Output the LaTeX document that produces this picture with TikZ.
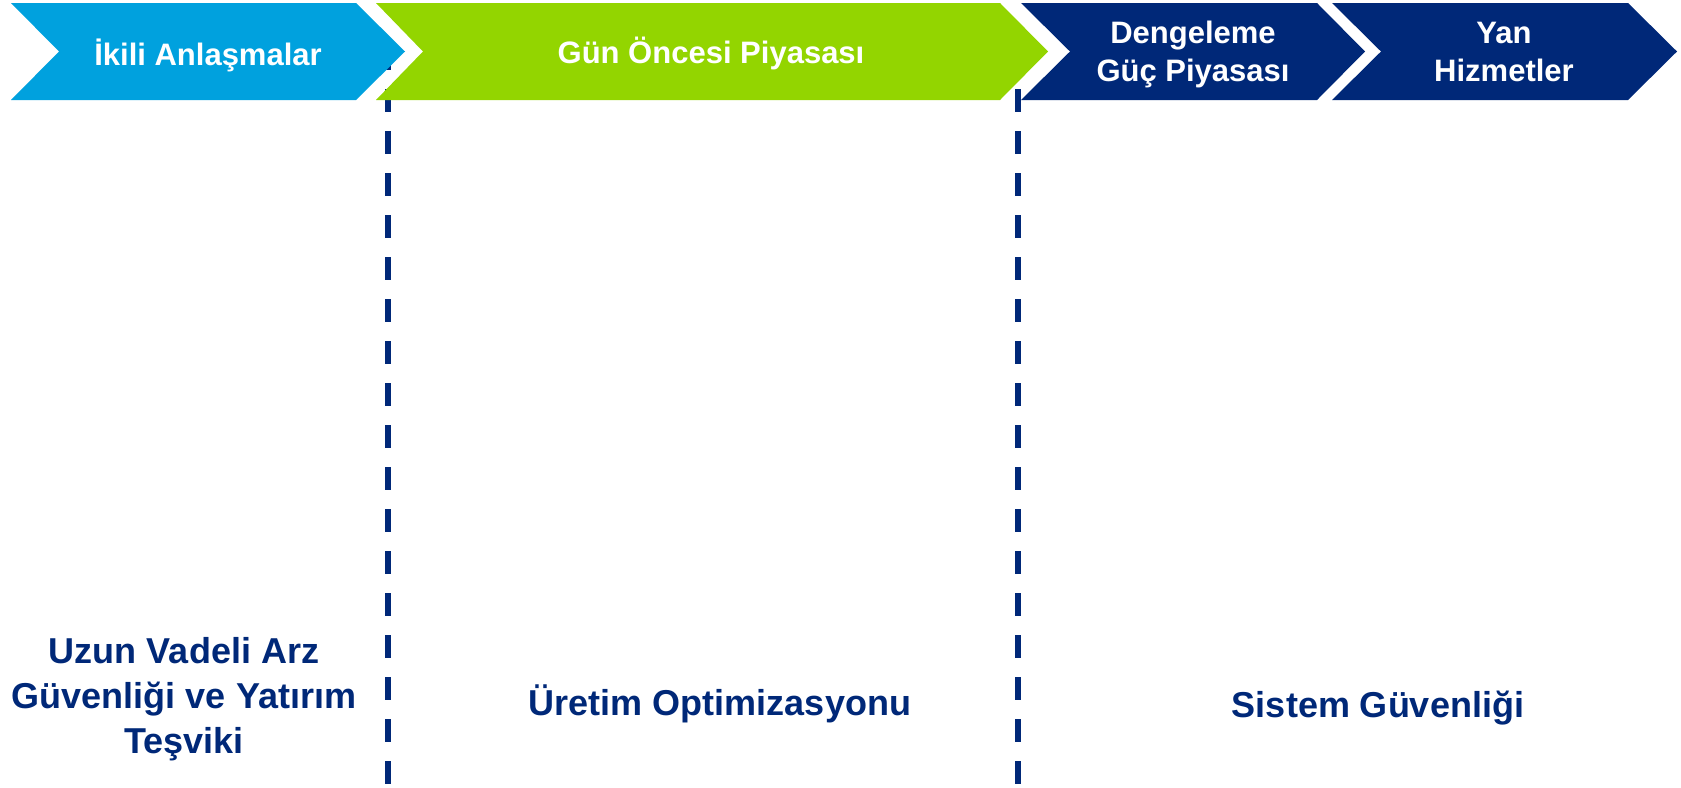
\documentclass[tikz,border=0pt]{standalone}
\usepackage{fontspec}
\setmainfont{Liberation Sans}
\definecolor{mktblue}{RGB}{0,161,222}
\definecolor{mktgreen}{RGB}{147,213,0}
\definecolor{mktnavy}{RGB}{0,40,120}

\begin{document}
\begin{tikzpicture}[x=0.5pt,y=-0.5pt,
    market/.style={font=\fontsize{15.5}{19.2}\selectfont\bfseries,text=white,
	align=center,inner sep=0pt,anchor=base},
    goal/.style={font=\fontsize{18}{22.35}\selectfont\bfseries,text=mktnavy,
	align=center,inner sep=0pt,anchor=base},
    divider/.style={draw=mktnavy,line width=3pt,dash pattern=on 11.5pt off 9.5pt}]
\useasboundingbox (0,0) rectangle (1681,787);
% dividers go under the arrows
\draw[divider]
    (388,47) -- (388,787)
    (1018,47) -- (1018,787);
\fill[mktblue]
    (11,3) -- ++(345,0) -- ++(49,48.5) -- ++(-49,48.5) -- ++(-345,0)
    -- ++(48,-48.5) -- cycle;
\fill[mktgreen]
    (376,3) -- ++(624,0) -- ++(48,48.5) -- ++(-48,48.5) -- ++(-624,0)
    -- ++(47,-48.5) -- cycle;
\fill[mktnavy]
    (1021,3) -- ++(296,0) -- ++(48,48.5) -- ++(-48,48.5) -- ++(-296,0)
    -- ++(49,-48.5) -- cycle
    (1332,3) -- ++(296,0) -- ++(49,48.5) -- ++(-49,48.5) -- ++(-296,0)
    -- ++(49,-48.5) -- cycle;
% base = last line of each label
\path
    (208,65)    node (m1) [market] {İkili Anlaşmalar}
    (711,63)    node (m2) [market] {Gün Öncesi Piyasası}
    (1193,81.7) node (m3) [market] {Dengeleme\\Güç Piyasası}
    (1504,81.7) node (m4) [market] {Yan\\Hizmetler};
\path
    (184,753)  node (g1) [goal] {Uzun Vadeli Arz\\Güvenliği ve Yatırım\\Teşviki}
    (720,715)  node (g2) [goal] {Üretim Optimizasyonu}
    (1378,717) node (g3) [goal] {Sistem Güvenliği};
\end{tikzpicture}
\end{document}
